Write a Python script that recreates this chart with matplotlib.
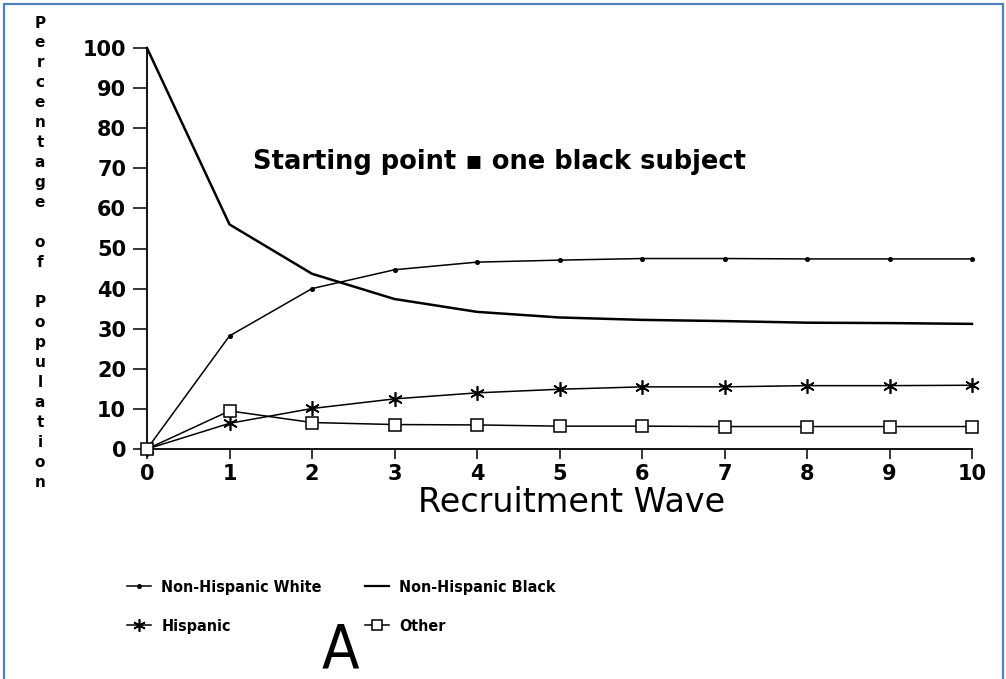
import matplotlib
matplotlib.use("Agg")
import matplotlib.pyplot as plt
from matplotlib import font_manager
from matplotlib.font_manager import FontProperties
from matplotlib.patches import Rectangle

# ---- data ----
waves = [0, 1, 2, 3, 4, 5, 6, 7, 8, 9, 10]
white = [0, 28.2, 40.0, 44.7, 46.6, 47.1, 47.5, 47.5, 47.4, 47.4, 47.4]
black = [100, 56.0, 43.7, 37.4, 34.2, 32.8, 32.2, 31.9, 31.5, 31.4, 31.2]
hispanic = [0, 6.4, 10.1, 12.5, 14.0, 14.9, 15.5, 15.5, 15.8, 15.8, 15.9]
other = [0, 9.5, 6.6, 6.1, 6.0, 5.7, 5.7, 5.6, 5.6, 5.6, 5.6]
series_labels = ["Non-Hispanic White", "Non-Hispanic Black", "Hispanic", "Other"]
xticks = list(range(0, 11))
yticks = list(range(0, 101, 10))
ylabel_words = ["Percentage", "of", "Population"]
xlabel = "Recruitment Wave"
note = "Starting point \u25aa one black subject"
panel = "A"

flist = font_manager.fontManager.ttflist


def find_condensed(bold):
    cands = []
    for f in flist:
        nm = f.name
        st = str(f.stretch).lower()
        isc = ("condensed" in st or "narrow" in st or "Condensed" in nm or "Narrow" in nm
               or "Condensed" in f.fname or "Narrow" in f.fname)
        if not isc:
            continue
        w = f.weight if isinstance(f.weight, int) else (700 if "bold" in str(f.weight).lower() else 400)
        if bold and w < 600:
            continue
        if not bold and w >= 600:
            continue
        if "Italic" in f.fname or "Oblique" in f.fname or f.style != "normal":
            continue
        pri = 0 if ("Liberation" in nm or "DejaVu" in nm) else 1
        cands.append((pri, f.fname))
    cands.sort()
    return cands[0][1] if cands else None


cb = find_condensed(True)
cr = find_condensed(False)
leg_prop = FontProperties(fname=cb, size=11.5) if cb else FontProperties(family="DejaVu Sans", weight="bold", size=10.5)
a_prop = FontProperties(fname=cr, size=44) if cr else FontProperties(family="Liberation Sans", size=44)

plt.rcParams["font.family"] = ["DejaVu Sans"]

W, H = 1006, 679
fig = plt.figure(figsize=(W / 100, H / 100), dpi=100)
fig.patch.set_facecolor("white")


def fx(px):
    return px / W


def fy(py):
    return 1 - py / H


ax = fig.add_axes([fx(147), fy(449), fx(972) - fx(147), fy(48) - fy(449)])
ax.set_xlim(0, 10)
ax.set_ylim(0, 100)
for s in ["top", "right"]:
    ax.spines[s].set_visible(False)
for s in ["left", "bottom"]:
    ax.spines[s].set_linewidth(1.3)
    ax.spines[s].set_color("black")

l_white, = ax.plot(waves, white, color="black", lw=1.1, marker="o", ms=2.6,
                   clip_on=False, zorder=3)
l_black, = ax.plot(waves, black, color="black", lw=1.8, clip_on=False, zorder=3)
l_hisp, = ax.plot(waves, hispanic, color="black", lw=1.1, marker=(6, 2, 0), ms=10.5,
                  mew=1.2, clip_on=False, zorder=4)
l_other, = ax.plot(waves, other, color="black", lw=1.1, marker="s", ms=8,
                   mfc="white", mec="black", mew=1.1, clip_on=False, zorder=5)

ax.set_xticks(xticks)
ax.set_yticks(yticks)
ax.tick_params(axis="y", direction="out", length=10, width=1.1, pad=5,
               labelsize=15, colors="black")
ax.tick_params(axis="x", direction="out", length=7, width=1.1, pad=4,
               labelsize=15, colors="black")
for lab in ax.get_xticklabels() + ax.get_yticklabels():
    lab.set_fontweight("bold")

fig.text(fx(572), fy(502), xlabel, ha="center", va="center", fontsize=24)

fig.text(fx(253), fy(162), note, ha="left", va="center", fontsize=18.5,
         fontweight="bold")

# stacked vertical y label
letters = []
for i, w in enumerate(ylabel_words):
    if i > 0:
        letters.append("")
    letters.extend(list(w))
for i, ch in enumerate(letters):
    if ch:
        fig.text(fx(40), fy(23 + i * 19.96), ch, ha="center", va="center",
                 fontsize=11, fontweight="bold")

# legend in two columns
h1 = [l_white, l_hisp]
h2 = [l_black, l_other]
common = dict(frameon=False, handlelength=1.5, handletextpad=0.65,
              labelspacing=1.5, borderpad=0, borderaxespad=0, numpoints=1,
              prop=leg_prop)
leg1 = fig.legend(h1, [series_labels[0], series_labels[2]], loc="upper left",
                  bbox_to_anchor=(fx(127), fy(580)), **common)
leg2 = fig.legend(h2, [series_labels[1], series_labels[3]], loc="upper left",
                  bbox_to_anchor=(fx(365), fy(580)), **common)
for lg in (leg1, leg2):
    for hl in lg.legend_handles:
        hl.set_linewidth(1.1)
leg2.legend_handles[0].set_linewidth(1.6)
leg1.legend_handles[1].set_markersize(9)
leg2.legend_handles[1].set_markersize(7)

fig.text(fx(340), fy(651), panel, ha="center", va="center", fontproperties=a_prop)

# blue frame
fig.patches.append(Rectangle((fx(4), fy(690)), fx(1003) - fx(4), fy(4) - fy(690),
                             transform=fig.transFigure, fill=False,
                             edgecolor="#4f81bd", lw=1.6, clip_on=False))

fig.savefig("out.png", dpi=100, facecolor="white")
